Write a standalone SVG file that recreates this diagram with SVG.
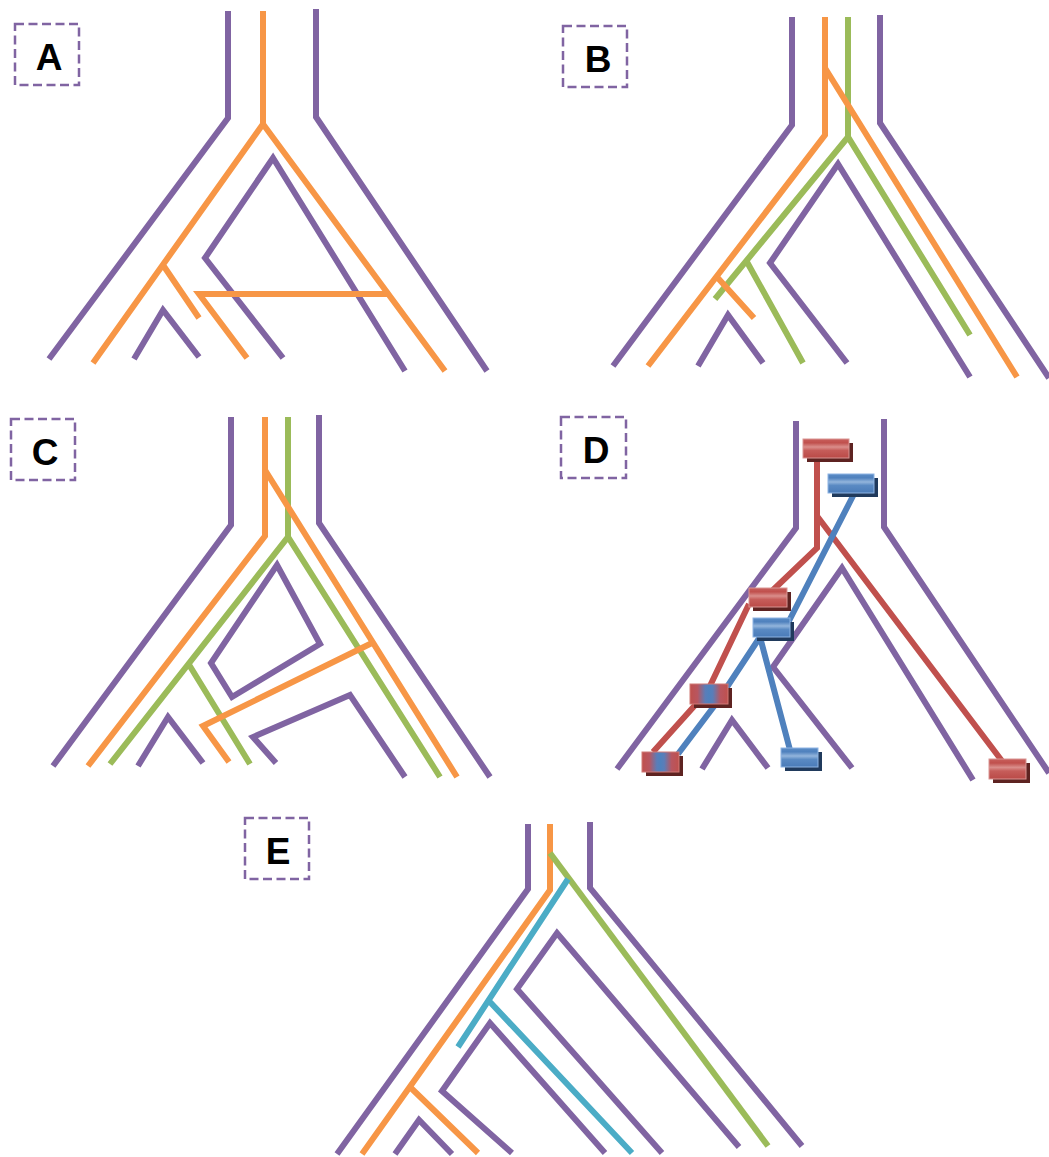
<svg xmlns="http://www.w3.org/2000/svg" width="1049" height="1157" viewBox="0 0 1049 1157">
<style>
.p{fill:none;stroke:#8064A2;stroke-width:6;stroke-linejoin:miter}
.o{fill:none;stroke:#F79646;stroke-width:6}
.g{fill:none;stroke:#9BBB59;stroke-width:6}
.c{fill:none;stroke:#4BACC6;stroke-width:6}
.r{fill:none;stroke:#C0504D;stroke-width:6}
.b{fill:none;stroke:#4F81BD;stroke-width:6}
.lb{fill:#fff;stroke:#8064A2;stroke-width:2.5;stroke-dasharray:9 4.5}
.lt{font-family:"Liberation Sans",Arial,sans-serif;font-weight:bold;font-size:37px;fill:#000;text-anchor:middle}
.rs{fill:#5E2321}
.bs{fill:#203A5C}
.rb{fill:url(#gr);stroke:#D99694;stroke-width:1}
.bb{fill:url(#gb);stroke:#8EB4E3;stroke-width:1}
.mb{fill:url(#gm);stroke:#D07A77;stroke-width:1}
</style>
<defs>
<linearGradient id="gr" x1="0" y1="0" x2="0" y2="1">
<stop offset="0" stop-color="#C85F5C"/><stop offset="0.2" stop-color="#C0504D"/><stop offset="0.42" stop-color="#DA8E8B"/><stop offset="0.6" stop-color="#C65D5A"/><stop offset="1" stop-color="#BA4A47"/>
</linearGradient>
<linearGradient id="gb" x1="0" y1="0" x2="0" y2="1">
<stop offset="0" stop-color="#5B8CC6"/><stop offset="0.2" stop-color="#4F81BD"/><stop offset="0.42" stop-color="#93B5DC"/><stop offset="0.6" stop-color="#5A8AC3"/><stop offset="1" stop-color="#4A7BB8"/>
</linearGradient>
<linearGradient id="gm" x1="0" y1="0" x2="1" y2="0">
<stop offset="0" stop-color="#C0504D"/><stop offset="0.2" stop-color="#B85660"/><stop offset="0.4" stop-color="#5B7DB8"/><stop offset="0.5" stop-color="#4F81BD"/><stop offset="0.6" stop-color="#5B7DB8"/><stop offset="0.8" stop-color="#B85660"/><stop offset="1" stop-color="#C0504D"/>
</linearGradient>
</defs>

<g id="panel-A">
<g id="label-A"><rect class="lb" x="15" y="24" width="64" height="61"/><text class="lt" x="49" y="70">A</text></g>
<g id="tree-A">
<polyline class="p" points="228,11 228,118 49,359"/>
<polyline class="p" points="316,9 316,117 487,371"/>
<polyline class="p" points="283,358 205,258 273,158 405,371"/>
<polyline class="p" points="134,359 163,310 199,357"/>
</g>
<g id="gene-A">
<path class="o" d="M263,11 V124 M93,363 L263,124 L445,371 M163,265 L199,318"/>
<polyline class="o" points="247,358 199,294 390,294"/>
</g>
</g>

<g id="panel-B">
<g id="label-B"><rect class="lb" x="563" y="26" width="64" height="61"/><text class="lt" x="598" y="72">B</text></g>
<g id="tree-B">
<polyline class="p" points="792,17 792,125 613,366"/>
<polyline class="p" points="880,15 880,123 1049,378"/>
<polyline class="p" points="847,363 770,263 838,164 970,377"/>
<polyline class="p" points="698,366 728,315 763,363"/>
</g>
<g id="gene-B">
<path class="g" d="M848,17 V137 M715,299 L848,137 L970,335 M747,262 L803,363"/>
<path class="o" d="M825,17 V135 L648,366 M825,68 L1017,377 M717,277 L754,318"/>
</g>
</g>

<g id="panel-C">
<g id="label-C"><rect class="lb" x="11" y="419" width="64" height="61"/><text class="lt" x="45" y="465">C</text></g>
<g id="tree-C">
<polyline class="p" points="231,417 231,525 53,766"/>
<polyline class="p" points="319,415 319,523 490,777"/>
<path class="p" d="M277,565 L320,644 L232,697 L211,663 Z"/>
<polyline class="p" points="276,763 253,737 350,695 405,777"/>
<polyline class="p" points="138,766 168,717 203,763"/>
</g>
<g id="gene-C">
<path class="g" d="M288,417 V537 M110,764 L288,537 L440,777 M188,663 L250,764"/>
<path class="o" d="M265,417 V536 L88,766 M265,470 L457,777"/>
<polyline class="o" points="372,643 203,726 229,762"/>
</g>
</g>

<g id="panel-D">
<g id="label-D"><rect class="lb" x="561" y="417" width="65" height="61"/><text class="lt" x="596" y="463">D</text></g>
<g id="tree-D">
<polyline class="p" points="796,421 796,528 617,769"/>
<polyline class="p" points="884,419 884,527 1049,773"/>
<polyline class="p" points="852,768 773,667 842,568 973,780"/>
<polyline class="p" points="702,769 732,720 768,768"/>
</g>
<g id="connectors-D">
<path class="r" d="M817,456 V548 L773,590 M817,516 L1002,761 M749,604 L709,688 M697,703 L653,752"/>
<path class="b" d="M854,494 L789,621 M760,637 L727,687 M760,637 L790,750 M715,705 L678,754"/>
</g>
<g id="node-D1"><rect class="rs" x="807" y="443" width="46" height="19"/><rect class="rb" x="803" y="439" width="46" height="19"/></g>
<g id="node-D2"><rect class="bs" x="832" y="478" width="46" height="19"/><rect class="bb" x="828" y="474" width="46" height="19"/></g>
<g id="node-D3"><rect class="rs" x="753" y="592" width="38" height="19"/><rect class="rb" x="749" y="588" width="38" height="19"/></g>
<g id="node-D4"><rect class="bs" x="757" y="622" width="37" height="19"/><rect class="bb" x="753" y="618" width="37" height="19"/></g>
<g id="node-D5"><rect class="rs" x="694" y="688" width="38" height="20"/><rect class="mb" x="690" y="684" width="38" height="20"/></g>
<g id="node-D6"><rect class="rs" x="646" y="756" width="37" height="20"/><rect class="mb" x="642" y="752" width="37" height="20"/></g>
<g id="node-D7"><rect class="bs" x="785" y="752" width="37" height="19"/><rect class="bb" x="781" y="748" width="37" height="19"/></g>
<g id="node-D8"><rect class="rs" x="993" y="763" width="37" height="20"/><rect class="rb" x="989" y="759" width="37" height="20"/></g>
</g>

<g id="panel-E">
<g id="label-E"><rect class="lb" x="245" y="818" width="64" height="61"/><text class="lt" x="278" y="864">E</text></g>
<g id="tree-E">
<polyline class="p" points="528,824 528,889 337,1154"/>
<polyline class="p" points="590,822 590,888 802,1146"/>
<polyline class="p" points="662,1153 517,989 557,933 739,1147"/>
<polyline class="p" points="512,1153 442,1091 490,1023 605,1153"/>
<polyline class="p" points="395,1154 419,1120 452,1154"/>
</g>
<g id="gene-E">
<path class="o" d="M550,824 V890 L362,1154 M410,1087 L478,1153"/>
<path class="g" d="M550,853 L768,1146"/>
<path class="c" d="M568,879 L458,1047 M490,1002 L632,1153"/>
</g>
</g>
</svg>
